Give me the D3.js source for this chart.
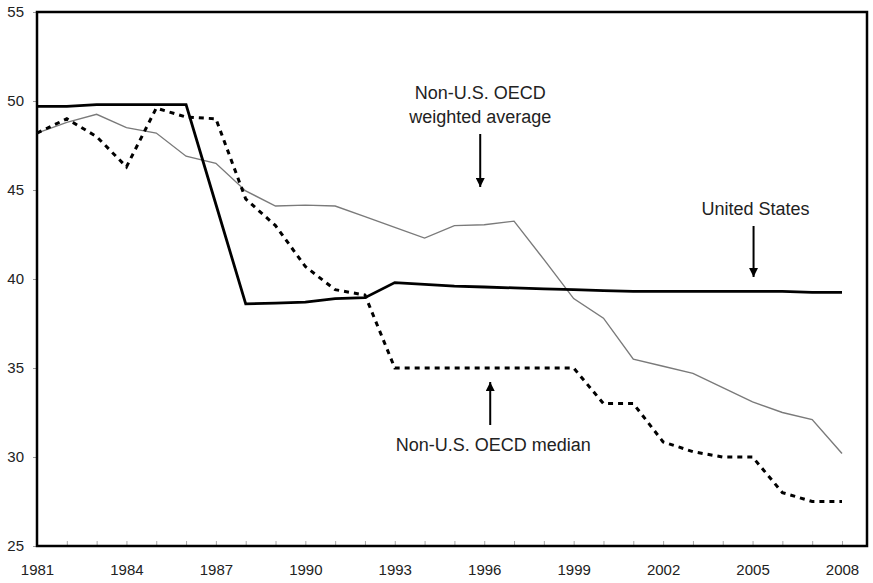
<!DOCTYPE html>
<html><head><meta charset="utf-8">
<script src="https://cdn.jsdelivr.net/npm/d3@7"></script>
<style>
body{margin:0;background:#fff;}
text{font-family:Arial,"Liberation Sans",sans-serif;}
</style></head>
<body><svg id="c" width="873" height="583"></svg>
<script>
const years = d3.range(1981, 2009);
const unitedStates = [49.7,49.7,49.8,49.8,49.8,49.8,44.2,38.6,38.65,38.7,38.9,38.95,39.8,39.7,39.6,39.55,39.5,39.45,39.4,39.35,39.3,39.3,39.3,39.3,39.3,39.3,39.25,39.25];
const weightedAvg = [48.2,48.8,49.25,48.5,48.2,46.9,46.5,44.95,44.1,44.15,44.1,43.5,42.9,42.3,43.0,43.05,43.25,41.1,38.9,37.8,35.5,35.1,34.7,33.9,33.1,32.5,32.1,30.2];
const median = [48.2,49.0,48.0,46.3,49.6,49.1,49.0,44.5,43.0,40.7,39.4,39.1,35.0,35.0,35.0,35.0,35.0,35.0,35.0,33.0,33.0,30.85,30.3,30.0,30.0,28.0,27.5,27.5];
const yTicks = [25,30,35,40,45,50,55];
const xTickLabels = [1981,1984,1987,1990,1993,1996,1999,2002,2005,2008];

const svg = d3.select("#c");
const L = 37, T = 12, R = 867, B = 546;
const x = d3.scaleLinear().domain([1981, 2008]).range([L, 842]);
const y = d3.scaleLinear().domain([25, 55]).range([B, T]);

svg.append("defs").append("marker").attr("id","ah").attr("viewBox","0 0 10 10")
  .attr("refX",10).attr("refY",5).attr("markerWidth",9).attr("markerHeight",9)
  .attr("markerUnits","userSpaceOnUse").attr("orient","auto")
  .append("path").attr("d","M0,0L10,5L0,10Z").attr("fill","#000");

const xAxis = d3.axisBottom(x).tickValues(years).tickSize(-5).tickFormat(d => xTickLabels.includes(d) ? d : "");
const gx = svg.append("g").attr("transform",`translate(0,${B})`).call(xAxis);
gx.select(".domain").remove();
gx.selectAll("line").attr("stroke","#aaa").attr("stroke-width",1);
gx.selectAll("text").attr("font-size",15).attr("fill","#222").attr("y",18).attr("dy","0.71em");

const yAxis = d3.axisLeft(y).tickValues(yTicks).tickSize(4).tickPadding(9);
const gy = svg.append("g").attr("transform",`translate(${L},0)`).call(yAxis);
gy.select(".domain").remove();
gy.selectAll("line").attr("stroke","#999");
gy.selectAll("text").attr("font-size",15).attr("fill","#222");

svg.append("rect").attr("x",L).attr("y",T).attr("width",R-L).attr("height",B-T)
  .attr("fill","none").attr("stroke","#000").attr("stroke-width",2.5);

const line = d3.line().x((d,i)=>x(years[i])).y(d=>y(d));
svg.append("path").datum(weightedAvg).attr("d",line).attr("fill","none")
  .attr("stroke","#7a7a7a").attr("stroke-width",1.4);
svg.append("path").datum(median).attr("d",line).attr("fill","none")
  .attr("stroke","#000").attr("stroke-width",3).attr("stroke-dasharray","5,5");
svg.append("path").datum(unitedStates).attr("d",line).attr("fill","none")
  .attr("stroke","#000").attr("stroke-width",2.8).attr("stroke-linejoin","miter");

function label(lines, cx, cy){
  const t = svg.append("text").attr("x",cx).attr("y",cy).attr("text-anchor","middle")
    .attr("font-size",18).attr("fill","#222");
  lines.forEach((s,i)=>t.append("tspan").attr("x",cx).attr("dy",i?24:0).text(s));
}
label(["Non-U.S. OECD","weighted average"], x(1996)-4, 99);
svg.append("line").attr("x1",x(1996)-4).attr("x2",x(1996)-4).attr("y1",134).attr("y2",187)
  .attr("stroke","#000").attr("stroke-width",2).attr("marker-end","url(#ah)");
label(["United States"], x(2005)+3, 215);
svg.append("line").attr("x1",x(2005)+1).attr("x2",x(2005)+1).attr("y1",226).attr("y2",277)
  .attr("stroke","#000").attr("stroke-width",2).attr("marker-end","url(#ah)");
label(["Non-U.S. OECD median"], x(1996)+9, 451);
svg.append("line").attr("x1",x(1996)+6).attr("x2",x(1996)+6).attr("y1",425).attr("y2",382)
  .attr("stroke","#000").attr("stroke-width",2).attr("marker-end","url(#ah)");
</script></body></html>
